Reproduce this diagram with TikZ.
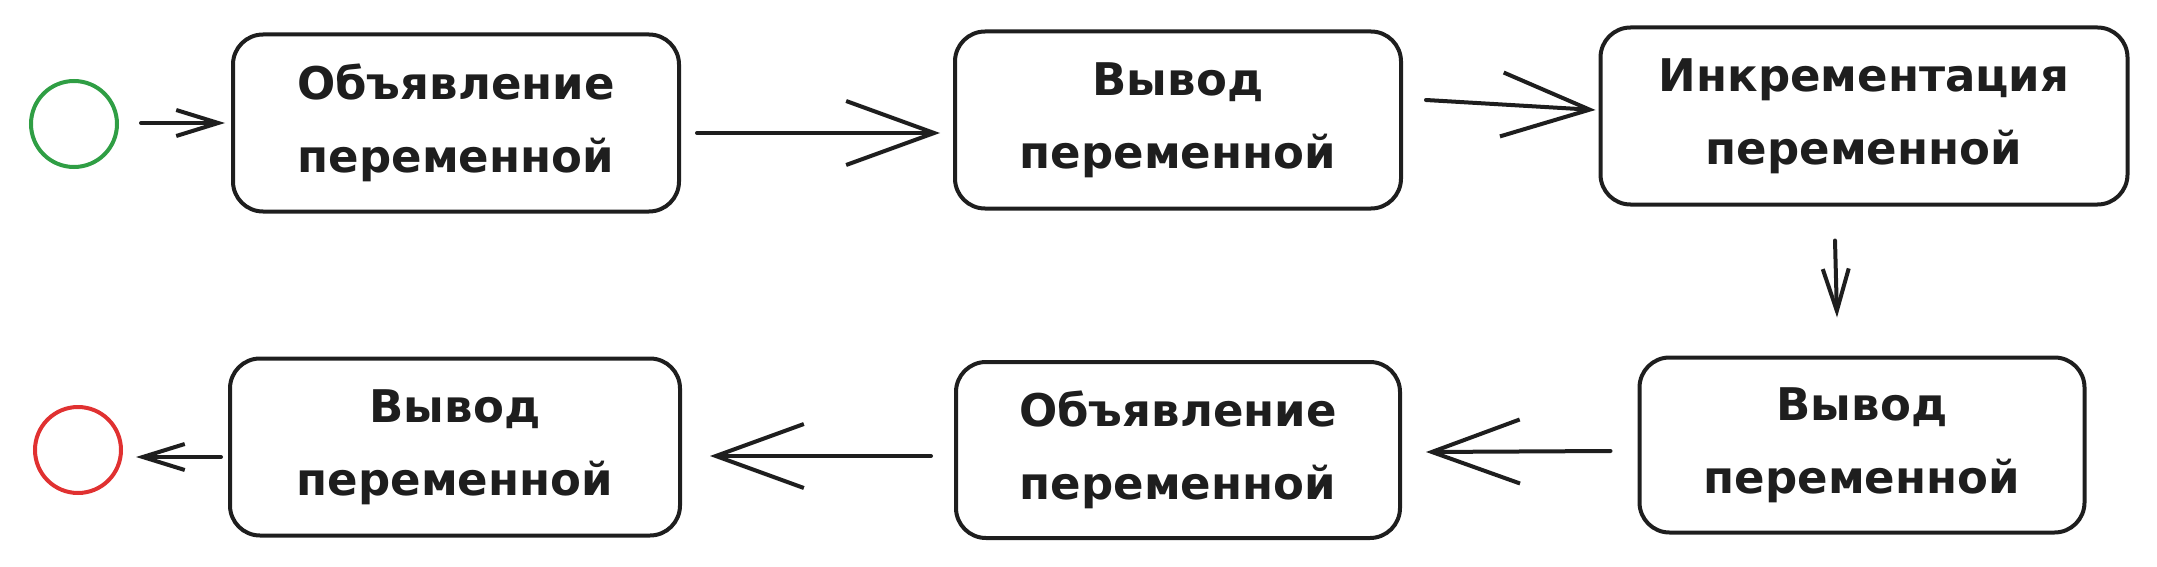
\documentclass[tikz,border=0pt]{standalone}
\usepackage{fontspec}
\setmainfont{DejaVu Sans}
\usetikzlibrary{arrows.meta,calc}
\definecolor{ink}{HTML}{1E1E1E}
\definecolor{startgreen}{HTML}{2F9E44}
\definecolor{endred}{HTML}{E03131}
\begin{document}
\begin{tikzpicture}[x=1pt,y=-1pt,
  statebox/.style={draw=ink, line width=4pt, rounded corners=30pt,
    minimum width=446pt, minimum height=177pt, align=center,
    font=\fontsize{45}{73}\selectfont\bfseries, text=ink, inner sep=0pt},
  pseudo/.style={circle, line width=4pt, minimum size=86pt, inner sep=0pt},
  flow/.style={draw=ink, line width=4pt, line cap=round, line join=round},
  smallhead/.style={-{Straight Barb[length=42pt,width=26pt]}},
  bighead/.style={-{Straight Barb[length=88pt,width=64pt]}},
]
\useasboundingbox (0,0) rectangle (2157,567);

\node[pseudo, draw=startgreen] (s) at (74,124) {};
\node[pseudo, draw=endred] (e) at (78,450) {};

\node[statebox] (b1) at (456,123) {Объявление\\переменной};
\node[statebox] (b2) at (1178,120) {Вывод\\переменной};
\node[statebox, minimum width=527pt] (b3) at (1864,116) {Инкрементация\\переменной};
\node[statebox, minimum width=445pt, minimum height=175pt] (b4) at (1862,445) {Вывод\\переменной};
\node[statebox, minimum width=444pt, minimum height=176pt] (b5) at (1178,450) {Объявление\\переменной};
\node[statebox, minimum width=450pt] (b6) at (455,447) {Вывод\\переменной};

\draw[flow, smallhead] ($(s.east)+(22,-1)$) -- ($(b1.west)+(-6,0)$);
\draw[flow, bighead] ($(b1.east)+(16,10)$) -- ($(b2.west)+(-13,13)$);
\draw[flow, bighead] ($(b2.east)+(23,-20)$) -- ($(b3.west)+(-3,-6)$);
\draw[flow, smallhead] ($(b3.south)+(-29,34)$) -- ($(b4.north)+(-25,-38)$);
\draw[flow, bighead] ($(b4.west)+(-27,6)$) -- ($(b5.east)+(24,2)$);
\draw[flow, bighead] ($(b5.west)+(-23,6)$) -- ($(b6.east)+(28,9)$);
\draw[flow, smallhead] ($(b6.west)+(-7,10)$) -- ($(e.east)+(13,7)$);
\end{tikzpicture}
\end{document}
